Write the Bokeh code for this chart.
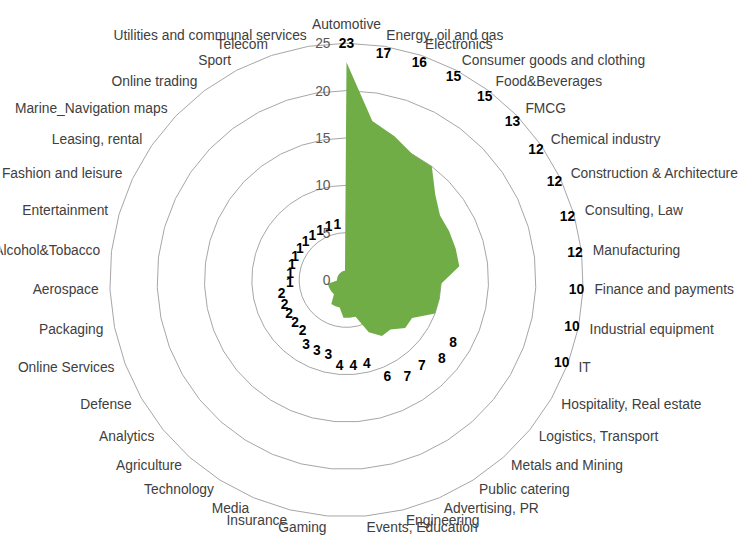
import numpy as np
from bokeh.plotting import figure
from bokeh.models import Range1d
from bokeh.core.properties import value
from bokeh.embed import file_html
from bokeh.resources import INLINE

# ---- data ----
categories = [
    "Automotive", "Energy, oil and gas", "Electronics", "Consumer goods and clothing",
    "Food&Beverages", "FMCG", "Chemical industry", "Construction & Architecture",
    "Consulting, Law", "Manufacturing", "Finance and payments", "Industrial equipment",
    "IT", "Hospitality, Real estate", "Logistics, Transport", "Metals and Mining",
    "Public catering", "Advertising, PR", "Engineering", "Events, Education", "Gaming",
    "Insurance", "Media", "Technology", "Agriculture", "Analytics", "Defense",
    "Online Services", "Packaging", "Aerospace", "Alcohol&Tobacco", "Entertainment",
    "Fashion and leisure", "Leasing, rental", "Marine_Navigation maps", "Online trading",
    "Sport", "Telecom", "Utilities and communal services",
]
counts = [23, 17, 16, 15, 15, 13, 12, 12, 12, 12, 10, 10, 10, 8, 8, 7, 7, 6, 4, 4, 4,
          3, 3, 3, 2, 2, 2, 2, 2, 1, 1, 1, 1, 1, 1, 1, 1, 1, 1]
ticks = [0, 5, 10, 15, 20, 25]

# ---- layout ----
W, H = 754, 539
PX = 9.47            # pixels per unit
CX, CY = 346, 279.5  # centre in figure pixels
FONT = "Liberation Sans"
FS = "13.8px"

p = figure(width=W, height=H, output_backend="svg", toolbar_location=None,
           x_range=Range1d(-CX / PX, (W - CX) / PX),
           y_range=Range1d(-(H - CY) / PX, CY / PX),
           min_border=0)
p.axis.visible = False
p.grid.visible = False
p.outline_line_color = None
p.background_fill_color = "white"

n = len(categories)
theta = np.arange(n) * 2 * np.pi / n
sx, cy_ = np.sin(theta), np.cos(theta)

# grid rings (polygons through each spoke)
for t in ticks[1:]:
    p.patch(list(t * sx) + [t * sx[0]], list(t * cy_) + [t * cy_[0]],
            fill_alpha=0, line_color="#A6A6A6", line_width=1)

# data polygon
vals = np.array(counts, dtype=float)
p.patch(list(vals * sx), list(vals * cy_), fill_color="#70AD47", line_alpha=0)

# radial axis labels
p.text(x=[0] * len(ticks), y=ticks, text=[str(t) for t in ticks], x_offset=-16,
       text_align="right", text_baseline="middle", text_font=value(FONT),
       text_font_size=FS, text_color="#595959")

# category labels
R = 26.2
lab = {"left": dict(x=[], y=[], t=[]), "right": dict(x=[], y=[], t=[]),
       "center": dict(x=[], y=[], t=[])}
for i, c in enumerate(categories):
    x, y = R * sx[i], R * cy_[i]
    if abs(sx[i]) < 1e-6:
        key = "center"
    elif sx[i] > 0:
        key = "left"
    else:
        key = "right"
    lab[key]["x"].append(x); lab[key]["y"].append(y); lab[key]["t"].append(c)
for key, d in lab.items():
    p.text(x=d["x"], y=d["y"], text=d["t"], text_align=key,
           text_baseline="bottom" if key == "center" else "middle",
           text_font=value(FONT), text_font_size=FS, text_color="#404040")

# value labels
lr = np.array([v + 5 if v < 9 else max(24.3, v + 2) for v in counts])
p.text(x=list(lr * sx), y=list(lr * cy_), text=[str(v) for v in counts],
       text_align="center", text_baseline="middle", text_font=value(FONT),
       text_font_size=FS, text_font_style="bold", text_color="black")

open("out.html", "w").write(file_html(p, INLINE))
